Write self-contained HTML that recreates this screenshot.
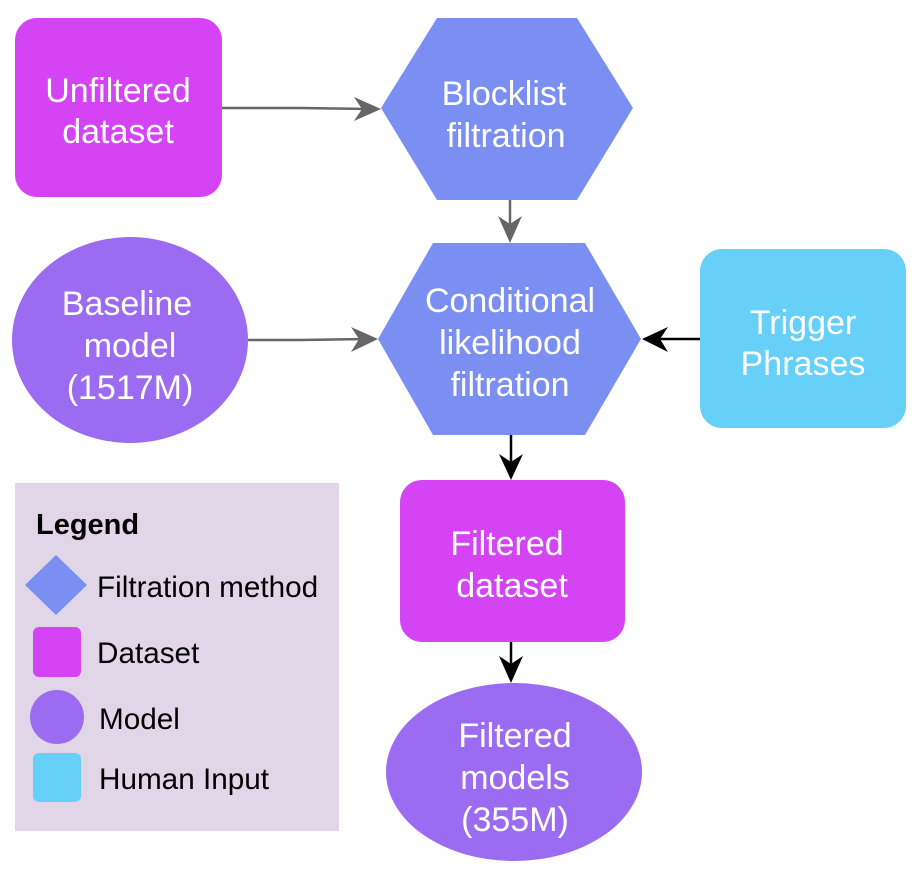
<!DOCTYPE html>
<html><head><meta charset="utf-8"><style>
html,body{margin:0;padding:0;background:#fff;}
svg{display:block;}
text{font-family:"Liberation Sans",Arial,sans-serif;}
</style></head><body>
<svg width="916" height="872" viewBox="0 0 916 872" xmlns="http://www.w3.org/2000/svg">
<rect x="15" y="18" width="207" height="179" rx="22" fill="#d444f5"/>
<text x="118" y="102" font-size="34" fill="#fff" text-anchor="middle">Unfiltered</text>
<text x="118" y="143" font-size="34" fill="#fff" text-anchor="middle">dataset</text>
<polygon points="381,108 437,18 577,18 633,108 577,200 437,200" fill="#7b8ff3"/>
<text x="504" y="105" font-size="34" fill="#fff" text-anchor="middle">Blocklist</text>
<text x="506" y="147" font-size="34" fill="#fff" text-anchor="middle">filtration</text>
<ellipse cx="130" cy="340" rx="118" ry="103" fill="#9b6bf2"/>
<text x="127" y="315" font-size="34" fill="#fff" text-anchor="middle">Baseline</text>
<text x="130" y="357" font-size="34" fill="#fff" text-anchor="middle">model</text>
<text x="130" y="399" font-size="34" fill="#fff" text-anchor="middle">(1517M)</text>
<polygon points="378,339 433,243 585,243 641,339 585,435 433,435" fill="#7b8ff3"/>
<text x="510" y="312" font-size="34" fill="#fff" text-anchor="middle">Conditional</text>
<text x="510" y="354" font-size="34" fill="#fff" text-anchor="middle">likelihood</text>
<text x="510" y="396" font-size="34" fill="#fff" text-anchor="middle">filtration</text>
<rect x="700" y="249" width="206" height="179" rx="22" fill="#66d0f8"/>
<text x="803" y="334" font-size="34" fill="#fff" text-anchor="middle">Trigger</text>
<text x="803" y="375" font-size="34" fill="#fff" text-anchor="middle">Phrases</text>
<rect x="400" y="480" width="225" height="162" rx="22" fill="#d444f5"/>
<text x="507" y="555" font-size="34" fill="#fff" text-anchor="middle">Filtered</text>
<text x="512" y="597" font-size="34" fill="#fff" text-anchor="middle">dataset</text>
<ellipse cx="514" cy="772" rx="128" ry="89" fill="#9b6bf2"/>
<text x="515" y="747" font-size="34" fill="#fff" text-anchor="middle">Filtered</text>
<text x="515" y="789" font-size="34" fill="#fff" text-anchor="middle">models</text>
<text x="515" y="831" font-size="34" fill="#fff" text-anchor="middle">(355M)</text>
<path d="M222,108 L300,108 L370,109" stroke="#666" stroke-width="2.5" fill="none"/>
<path d="M354,97 L381,109 L354,121 L362,109 Z" fill="#666"/>
<path d="M510,200 L510,232" stroke="#666" stroke-width="2.5" fill="none"/>
<path d="M498,216 L510,243 L522,216 L510,224 Z" fill="#666"/>
<path d="M248,340 L300,340 L367,339" stroke="#666" stroke-width="2.5" fill="none"/>
<path d="M351,327 L378,339 L351,352 L359,339 Z" fill="#666"/>
<path d="M700,339 L652,339" stroke="#000" stroke-width="2.5" fill="none"/>
<path d="M668,327 L642,339 L668,352 L660,339 Z" fill="#000"/>
<path d="M511,435 L511,470" stroke="#000" stroke-width="2.5" fill="none"/>
<path d="M499,454 L511,480 L523,454 L511,462 Z" fill="#000"/>
<path d="M511,642 L511,672" stroke="#000" stroke-width="2.5" fill="none"/>
<path d="M499,656 L511,683 L523,656 L511,664 Z" fill="#000"/>
<rect x="15" y="483" width="324" height="348" fill="#e0d6e7"/>
<text x="36" y="534" font-size="29" font-weight="bold" fill="#000">Legend</text>
<polygon points="25,585 56,555 87,585 56,615" fill="#7b8ff3"/>
<text x="97" y="597" font-size="29.7" fill="#000">Filtration method</text>
<rect x="33" y="627" width="48" height="50" rx="6" fill="#d444f5"/>
<text x="97" y="663" font-size="29.7" fill="#000">Dataset</text>
<circle cx="57" cy="717" r="27" fill="#9b6bf2"/>
<text x="99" y="729" font-size="29.7" fill="#000">Model</text>
<rect x="33" y="753" width="48" height="49" rx="6" fill="#66d0f8"/>
<text x="99" y="789" font-size="29.7" fill="#000">Human Input</text>
</svg>
</body></html>
